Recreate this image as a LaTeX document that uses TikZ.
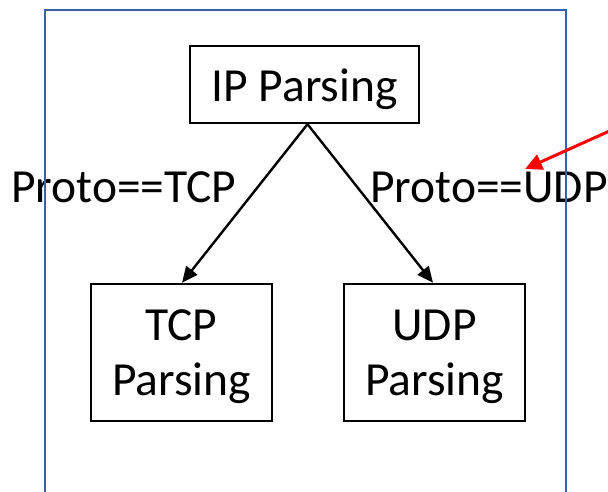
\documentclass[tikz,border=0pt]{standalone}
\usepackage{fontspec}
\setmainfont{Carlito}
\usetikzlibrary{arrows.meta}
\definecolor{frameblue}{RGB}{58,96,168}
\definecolor{pointred}{RGB}{255,0,0}
\begin{document}
\begin{tikzpicture}[x=1pt,y=-1pt,
  box/.style={draw=black, line width=2.4pt, inner sep=0pt},
  boxtext/.style={font=\fontsize{47.5}{55}\selectfont, align=center, inner sep=0pt},
  cond/.style={font=\fontsize{47.5}{55}\selectfont, inner sep=0pt, anchor=base west},
  flow/.style={draw=black, line width=2.4pt, -{Triangle[length=16pt,width=14pt]}},
  pointer/.style={draw=pointred, line width=3pt, -{Triangle[length=17pt,width=16pt]}},
  frame/.style={draw=frameblue, line width=2.4pt}]
  \useasboundingbox (0,0) rectangle (608,492);
  \clip (0,0) rectangle (608,492);

  % parser stages
  \node[box, minimum width=229pt, minimum height=77pt] (ip) at (304.5,84.5) {};
  \node[boxtext, yshift=-5pt] (iptext) at (ip.center) {IP Parsing};
  \node[box, minimum width=181pt, minimum height=137pt] (tcp) at (181.5,352.5) {};
  \node[boxtext, yshift=-4.5pt] (tcptext) at (tcp.center) {TCP\\Parsing};
  \node[box, minimum width=181pt, minimum height=137pt] (udp) at (434.5,352.5) {};
  \node[boxtext, yshift=-4.5pt] (udptext) at (udp.center) {UDP\\Parsing};

  % transitions
  \coordinate (fork) at ([xshift=3pt]ip.south);
  \draw[flow] (fork) -- ([xshift=0.5pt]tcp.north);
  \draw[flow] (fork) -- ([xshift=-1.5pt]udp.north);

  % transition conditions
  \node[cond] (tcpcond) at (11,203) {Proto==TCP};
  \node[cond] (udpcond) at (370,203) {Proto==UDP};

  % enclosing frame (open at the bottom)
  \draw[frame] (45,10) rectangle (566,520);

  % callout arrow pointing at the UDP condition
  \coordinate (calloutstart) at (614,129);
  \coordinate (callouttip) at (525,169);
  \draw[pointer] (calloutstart) -- (callouttip);
\end{tikzpicture}
\end{document}
